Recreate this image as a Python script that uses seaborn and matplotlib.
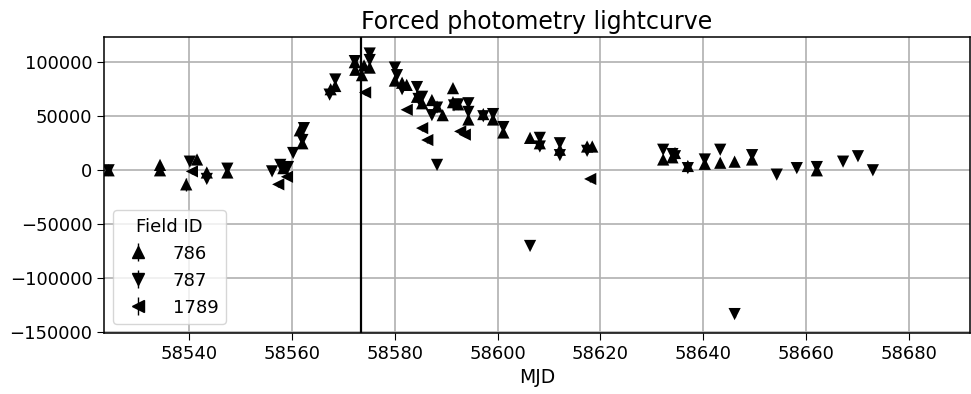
import matplotlib
matplotlib.use("Agg")
import matplotlib.pyplot as plt
import seaborn as sns
import pandas as pd

# ---- data ----
mjd_786 = [58524.3, 58534.3, 58534.3, 58539.4, 58541.5, 58543.4, 58547.4, 58558.3,
           58561.5, 58562.0, 58567.5, 58568.4, 58572.2, 58572.3, 58573.6, 58575.1,
           58574.0, 58580.0, 58581.4, 58582.3, 58584.3, 58585.3, 58587.2, 58588.2,
           58589.3, 58591.3, 58591.3, 58592.3, 58594.3, 58597.2, 58599.1, 58601.1,
           58606.3, 58608.2, 58612.1, 58617.4, 58618.4, 58632.2, 58634.0, 58634.5,
           58637.0, 58640.3, 58643.3, 58646.1, 58649.5, 58662.1]
flux_786 = [0, 5000, 0, -13000, 10000, -2000, -2000, 2000,
            37000, 25000, 75000, 78000, 100000, 93000, 88000, 95000,
            97000, 83000, 81000, 79000, 68000, 62000, 65000, 59000,
            51000, 76000, 63000, 61000, 47000, 52000, 47000, 35000,
            30000, 25000, 19000, 22000, 22000, 10000, 12000, 16000,
            4000, 6000, 7000, 8000, 10000, 0]
err_786 = [2500, 2500, 2500, 6000, 3000, 2500, 2500, 3000,
           3000, 3000, 3000, 3000, 3000, 3000, 3000, 3000,
           3000, 3000, 3000, 3000, 3000, 3000, 3000, 3000,
           3000, 3000, 3000, 3000, 3000, 3000, 3000, 3000,
           2500, 2500, 2500, 4000, 3000, 2500, 2500, 2500,
           2500, 2500, 2500, 2500, 2500, 2500]

mjd_787 = [58524.3, 58540.1, 58543.4, 58547.4, 58556.1, 58557.7, 58559.2, 58560.2,
           58562.3, 58562.0, 58567.3, 58568.4, 58572.2, 58575.1, 58575.1, 58580.0,
           58580.4, 58581.4, 58584.3, 58584.6, 58585.3, 58587.2, 58588.2, 58588.2,
           58591.5, 58592.3, 58594.3, 58594.3, 58597.2, 58599.1, 58601.1, 58606.3,
           58608.2, 58608.2, 58612.1, 58612.1, 58617.4, 58632.2, 58634.0, 58634.5,
           58637.0, 58640.3, 58643.3, 58646.1, 58649.5, 58654.3, 58658.2, 58662.1,
           58667.2, 58670.1, 58673.0]
flux_787 = [0, 8000, -8000, 1500, -1000, 5000, 3000, 16000,
            39000, 28000, 70000, 84000, 101000, 108000, 102000, 95000,
            88000, 75000, 77000, 66000, 68000, 51000, 58000, 5000,
            60000, 61000, 62000, 54000, 50000, 52000, 40000, -70000,
            30000, 22000, 25000, 14000, 18000, 19000, 15000, 13000,
            2000, 10000, 19000, -133000, 14000, -4000, 2000, 3000,
            8000, 13000, 0]
err_787 = [2500] * len(mjd_787)

mjd_1789 = [58540.5, 58557.3, 58559.0, 58574.2, 58582.3, 58585.3, 58586.3,
            58592.7, 58593.6, 58618.0]
flux_1789 = [-1000, -13000, -6000, 72000, 56000, 39000, 28000,
             36000, 33000, -8000]
err_1789 = [2500] * len(mjd_1789)

field_ids = ["786", "787", "1789"]
field_markers = {"786": "^", "787": "v", "1789": "<"}
peak_mjd = 58573.4

frames = []
for fid, m, f, e in [("786", mjd_786, flux_786, err_786),
                     ("787", mjd_787, flux_787, err_787),
                     ("1789", mjd_1789, flux_1789, err_1789)]:
    frames.append(pd.DataFrame({"MJD": m, "flux": f, "err": e, "Field ID": fid}))
df = pd.concat(frames, ignore_index=True)

# ---- styling ----
sns.set_style("ticks")
plt.rcParams.update({
    "font.family": ["DejaVu Sans"],
    "font.size": 12.5,
    "text.color": "black",
    "axes.labelcolor": "black",
    "xtick.labelsize": 13,
    "ytick.labelsize": 13,
    "xtick.major.size": 4.8,
    "ytick.major.size": 4.8,
    "xtick.color": "black",
    "ytick.color": "black",
    "axes.edgecolor": "black",
    "axes.linewidth": 1.1,
})

fig = plt.figure(figsize=(9.71, 3.94), dpi=100)
ax = fig.add_axes([104 / 971, 1 - 333 / 394, 866 / 971, (333 - 37) / 394])

ms = 8.8
for fid in field_ids:
    sub = df[df["Field ID"] == fid]
    ax.errorbar(sub["MJD"], sub["flux"], yerr=sub["err"], fmt="none",
                ecolor="black", elinewidth=1.0, zorder=3)

sns.scatterplot(data=df, x="MJD", y="flux", style="Field ID",
                markers=field_markers, style_order=field_ids,
                color="black", edgecolor="black", s=ms ** 2,
                linewidth=0, legend=False, ax=ax, zorder=4)

# legend handles as errorbar-style entries
handles = []
for fid in field_ids:
    h = ax.errorbar([], [], yerr=[], fmt=field_markers[fid], color="black",
                    ms=ms, elinewidth=1.0, label=fid)
    handles.append(h)
leg = ax.legend(handles=handles, labels=field_ids, title="Field ID",
                loc="lower left", fontsize=13, title_fontsize=13,
                frameon=True, framealpha=0.8, edgecolor="#cccccc",
                handletextpad=0.9)

ax.axvline(peak_mjd, color="black", lw=1.6, zorder=2)

ax.set_xlim(58523.4, 58691.9)
ax.set_ylim(-150500, 123300)
ax.set_xticks([58540, 58560, 58580, 58600, 58620, 58640, 58660, 58680])
ax.set_yticks([-150000, -100000, -50000, 0, 50000, 100000])
ax.grid(True, color="#b0b0b0", lw=1.2)
ax.set_axisbelow(True)
ax.set_xlabel("MJD", fontsize=13.5)
ax.set_ylabel("")
ax.set_title("Forced photometry lightcurve", fontsize=17)

fig.savefig("out.png", dpi=100)
